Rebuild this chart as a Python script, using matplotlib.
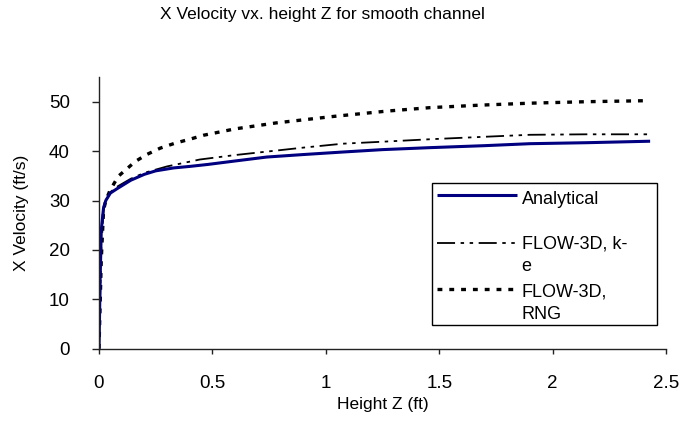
import matplotlib
matplotlib.use("Agg")
import matplotlib.pyplot as plt
from matplotlib.lines import Line2D
from matplotlib.patches import Rectangle

plt.rcParams['font.family'] = ['Liberation Sans', 'DejaVu Sans']
plt.rcParams['lines.scale_dashes'] = False

# Data
z_analytical = [0, 0.005, 0.01, 0.02, 0.03, 0.05, 0.08, 0.14, 0.2, 0.25, 0.33, 0.4, 0.48,
                0.6, 0.74, 0.9, 1.07, 1.25, 1.46, 1.7, 1.9, 2.15, 2.43]
v_analytical = [0, 14, 24, 28.5, 30, 31.5, 32.4, 34.1, 35.3, 36.0, 36.6, 36.9, 37.3,
                38.0, 38.8, 39.3, 39.8, 40.3, 40.7, 41.1, 41.5, 41.7, 42.0]

z_ke = [0, 0.01, 0.02, 0.03, 0.05, 0.08, 0.14, 0.2, 0.3, 0.445, 0.6, 0.74, 0.9,
        1.075, 1.25, 1.46, 1.7, 1.9, 2.15, 2.43]
v_ke = [0, 20, 28, 30, 31.7, 32.8, 34.4, 35.6, 36.9, 38.3, 39.2, 39.9, 40.7,
        41.5, 41.9, 42.4, 42.9, 43.3, 43.4, 43.4]

z_rng = [0, 0.01, 0.02, 0.03, 0.048, 0.085, 0.115, 0.16, 0.21, 0.27, 0.335, 0.4, 0.46,
         0.6, 0.78, 1.03, 1.27, 1.46, 1.68, 1.9, 2.15, 2.41]
v_rng = [0, 18, 28, 30, 32, 34.9, 36.1, 37.9, 39.3, 40.6, 41.6, 42.4, 43.2,
         44.5, 45.7, 47.0, 48.1, 48.8, 49.3, 49.7, 50.0, 50.2]

x_ticks = [0, 0.5, 1, 1.5, 2, 2.5]
x_ticklabels = ['0', '0.5', '1', '1.5', '2', '2.5']
y_ticks = [0, 10, 20, 30, 40, 50]
labels = ['Analytical', 'FLOW-3D, k-\ne', 'FLOW-3D,\nRNG']

W, H = 680, 426
fig = plt.figure(figsize=(W / 100, H / 100), dpi=100)
ax = fig.add_axes([99 / W, (H - 348.7) / H, 567 / W, 271.7 / H])

style_an = dict(color='#000080', lw=2.2, solid_capstyle='butt')
style_ke = dict(color='black', lw=1.3, linestyle=(0, (13, 4, 2.5, 4, 2.5, 4)))
style_rng = dict(color='black', lw=2.4, linestyle=(0, (3.5, 5)))

ax.plot(z_rng, v_rng, **style_rng)
ax.plot(z_ke, v_ke, **style_ke)
ax.plot(z_analytical, v_analytical, **style_an)

ax.set_xlim(0, 2.5)
ax.set_ylim(0, 55)
ax.set_xticks(x_ticks)
ax.set_xticklabels(x_ticklabels)
ax.set_yticks(y_ticks)
for s in ['top', 'right']:
    ax.spines[s].set_visible(False)
for s in ['left', 'bottom']:
    ax.spines[s].set_linewidth(1.0)
    ax.spines[s].set_color('#222222')
ax.tick_params(axis='both', direction='out', width=1, colors='#222222',
               labelcolor='black', labelsize=13.5)
ax.tick_params(axis='y', length=5, pad=16)
ax.tick_params(axis='x', length=3.6, pad=15)

ax.set_xlabel('Height Z (ft)', fontsize=12.5)
ax.xaxis.label.set_va('center')
ax.xaxis.set_label_coords(0.5, (348.7 - 404.5) / 271.7)
ax.set_ylabel('X Velocity (ft/s)', fontsize=12.5)
ax.yaxis.label.set_va('center')
ax.yaxis.set_label_coords((22 - 99) / 567, 0.5)
fig.text(322 / W, 1 - 14.5 / H, 'X Velocity vx. height Z for smooth channel',
         ha='center', va='center', fontsize=12.5)

# Manual legend (pixel positions converted to figure coordinates)
def fx(px):
    return px / W

def fy(py):
    return 1 - py / H

fig.patches.append(Rectangle((fx(431.7), fy(325)), fx(656.7) - fx(431.7), fy(183.3) - fy(325),
                             transform=fig.transFigure, facecolor='white',
                             edgecolor='black', lw=1.0, zorder=5))
for yy, st in [(195, style_an), (242.7, style_ke), (289.3, style_rng)]:
    fig.lines.append(Line2D([fx(437), fx(517)], [fy(yy), fy(yy)],
                            transform=fig.transFigure, zorder=6, **st))
for yy, lab in zip([204, 271, 319.3], labels):
    fig.text(fx(521.7), fy(yy), lab, ha='left', va='baseline', fontsize=13,
             linespacing=1.42, zorder=6)

fig.savefig('out.png', dpi=100)
